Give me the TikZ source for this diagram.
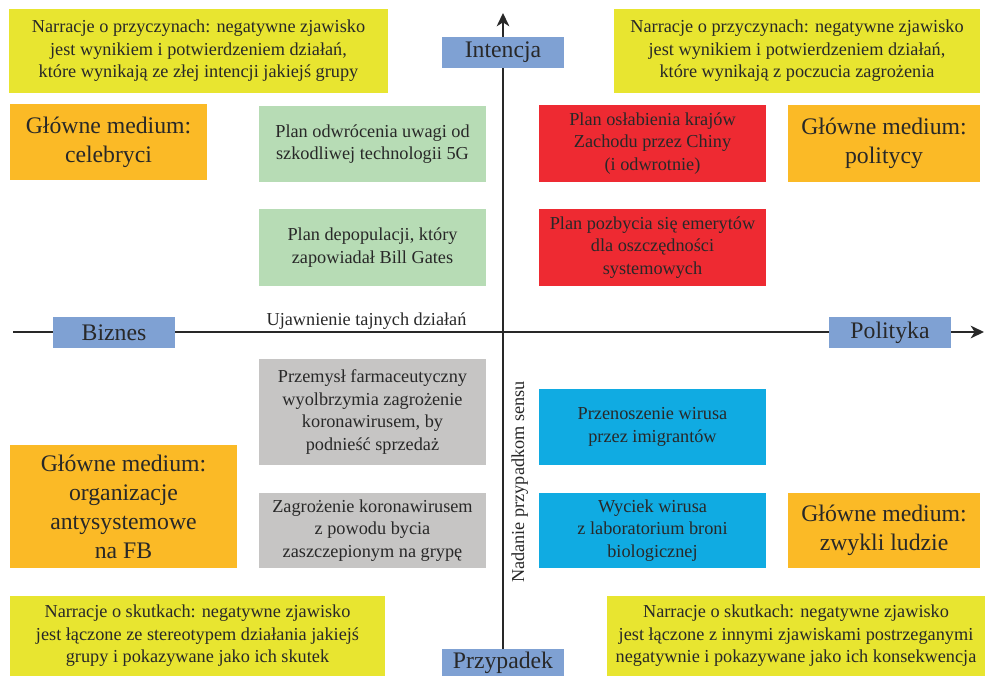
\documentclass[tikz,border=0pt]{standalone}
\usepackage{fontspec}
\setmainfont{Liberation Serif}
\usetikzlibrary{arrows.meta,backgrounds}
\definecolor{narr}{RGB}{232,229,48}
\definecolor{medium}{RGB}{251,186,38}
\definecolor{plangreen}{RGB}{183,220,181}
\definecolor{planred}{RGB}{238,42,50}
\definecolor{plangray}{RGB}{198,197,196}
\definecolor{plancyan}{RGB}{16,171,226}
\definecolor{axisblue}{RGB}{127,161,211}
\definecolor{ink}{RGB}{40,40,40}

\begin{document}
\begin{tikzpicture}[x=0.75pt,y=-0.75pt,
  every node/.style={text=ink,inner sep=0pt,align=center},
  small/.style={font=\fontsize{13.7}{16.9}\selectfont},
  big/.style={font=\fontsize{17.8}{21.8}\selectfont},
  narrbox/.style={small,fill=narr,minimum height=61pt},
  medbox/.style={big,fill=medium,minimum width=146pt,minimum height=57pt},
  planbox/.style={small,minimum width=170.25pt,minimum height=57pt},
  axlabel/.style={big,fill=axisblue,minimum width=91.5pt,minimum height=23.25pt},
  axis/.style={draw=ink,line width=1.4pt,-{Stealth[length=10pt,width=9.5pt,inset=3pt]}}]
\useasboundingbox (0,0) rectangle (985,676);

% narratives
\node[narrbox,minimum width=284.25pt,minimum height=63pt] (causeL) at (198.5,51)
  {Narracje o przyczynach: negatywne zjawisko\\jest wynikiem i potwierdzeniem działań,\\które wynikają ze złej intencji jakiejś grupy};
\node[narrbox,minimum width=274.5pt,minimum height=63pt] (causeR) at (797,51)
  {Narracje o przyczynach: negatywne zjawisko\\jest wynikiem i potwierdzeniem działań,\\które wynikają z poczucia zagrożenia};
\node[narrbox,minimum width=281.25pt,minimum height=60pt] (effectL) at (197.5,636)
  {Narracje o skutkach: negatywne zjawisko\\jest łączone ze stereotypem działania jakiejś\\grupy i pokazywane jako ich skutek};
\node[narrbox,minimum width=283.5pt,minimum height=60pt] (effectR) at (796,636)
  {Narracje o skutkach: negatywne zjawisko\\jest łączone z innymi zjawiskami postrzeganymi\\negatywnie i pokazywane jako ich konsekwencja};

% main media
\node[medbox,minimum width=147.75pt] (medCeleb) at (108.5,142) {Główne medium:\\celebryci};
\node[medbox,minimum width=144pt,minimum height=57.75pt] (medPolit) at (884,143.5) {Główne medium:\\politycy};
\node[medbox,minimum width=170.25pt,minimum height=92.25pt] (medAnty) at (123.5,506.5)
  {Główne medium:\\organizacje\\antysystemowe\\na FB};
\node[medbox,minimum width=144pt,minimum height=56.25pt] (medPeople) at (884,530.5) {Główne medium:\\zwykli ludzie};

% plans
\node[planbox,fill=plangreen] (plan5G) at (372.5,144)
  {Plan odwrócenia uwagi od\\szkodliwej technologii 5G};
\node[planbox,fill=plangreen,minimum height=57.75pt] (planGates) at (372.5,247.5)
  {Plan depopulacji, który\\zapowiadał Bill Gates};
\node[planbox,fill=planred,minimum height=57.75pt] (planChina) at (652.5,143.5)
  {Plan osłabienia krajów\\Zachodu przez Chiny\\(i odwrotnie)};
\node[planbox,fill=planred,minimum height=57.75pt] (planPension) at (652.5,247.5)
  {Plan pozbycia się emerytów\\dla oszczędności\\systemowych};
\node[planbox,fill=plangray,minimum height=79.5pt] (pharma) at (372.5,412)
  {Przemysł farmaceutyczny\\wyolbrzymia zagrożenie\\koronawirusem, by\\podnieść sprzedaż};
\node[planbox,fill=plangray,minimum height=56.25pt] (flu) at (372.5,530.5)
  {Zagrożenie koronawirusem\\z powodu bycia\\zaszczepionym na grypę};
\node[planbox,fill=plancyan] (migrants) at (652.5,427)
  {Przenoszenie wirusa\\przez imigrantów};
\node[planbox,fill=plancyan,minimum height=56.25pt] (leak) at (652.5,530.5)
  {Wyciek wirusa\\z laboratorium broni\\biologicznej};

% axes
\node[axlabel] (intent) at (503,52.5) {Intencja};
\node[axlabel,minimum height=20.25pt] (chance) at (503,662.5) {Przypadek};
\node[axlabel] (business) at (114,332.5) {Biznes};
\node[axlabel] (politics) at (890,332.5) {Polityka};
\coordinate (topEnd) at (503,13);
\coordinate (leftEnd) at (13,332);
\coordinate (rightEnd) at (984,332);
\begin{scope}[on background layer]
\draw[axis] (chance.north) -- (topEnd);
\draw[axis] (leftEnd) -- (rightEnd);
\end{scope}
\node[small,anchor=base] (reveal) at (366.5,325) {Ujawnienie tajnych działań};
\node[small,rotate=90,anchor=base] (meaning) at (524,482) {Nadanie przypadkom sensu};
\end{tikzpicture}
\end{document}
